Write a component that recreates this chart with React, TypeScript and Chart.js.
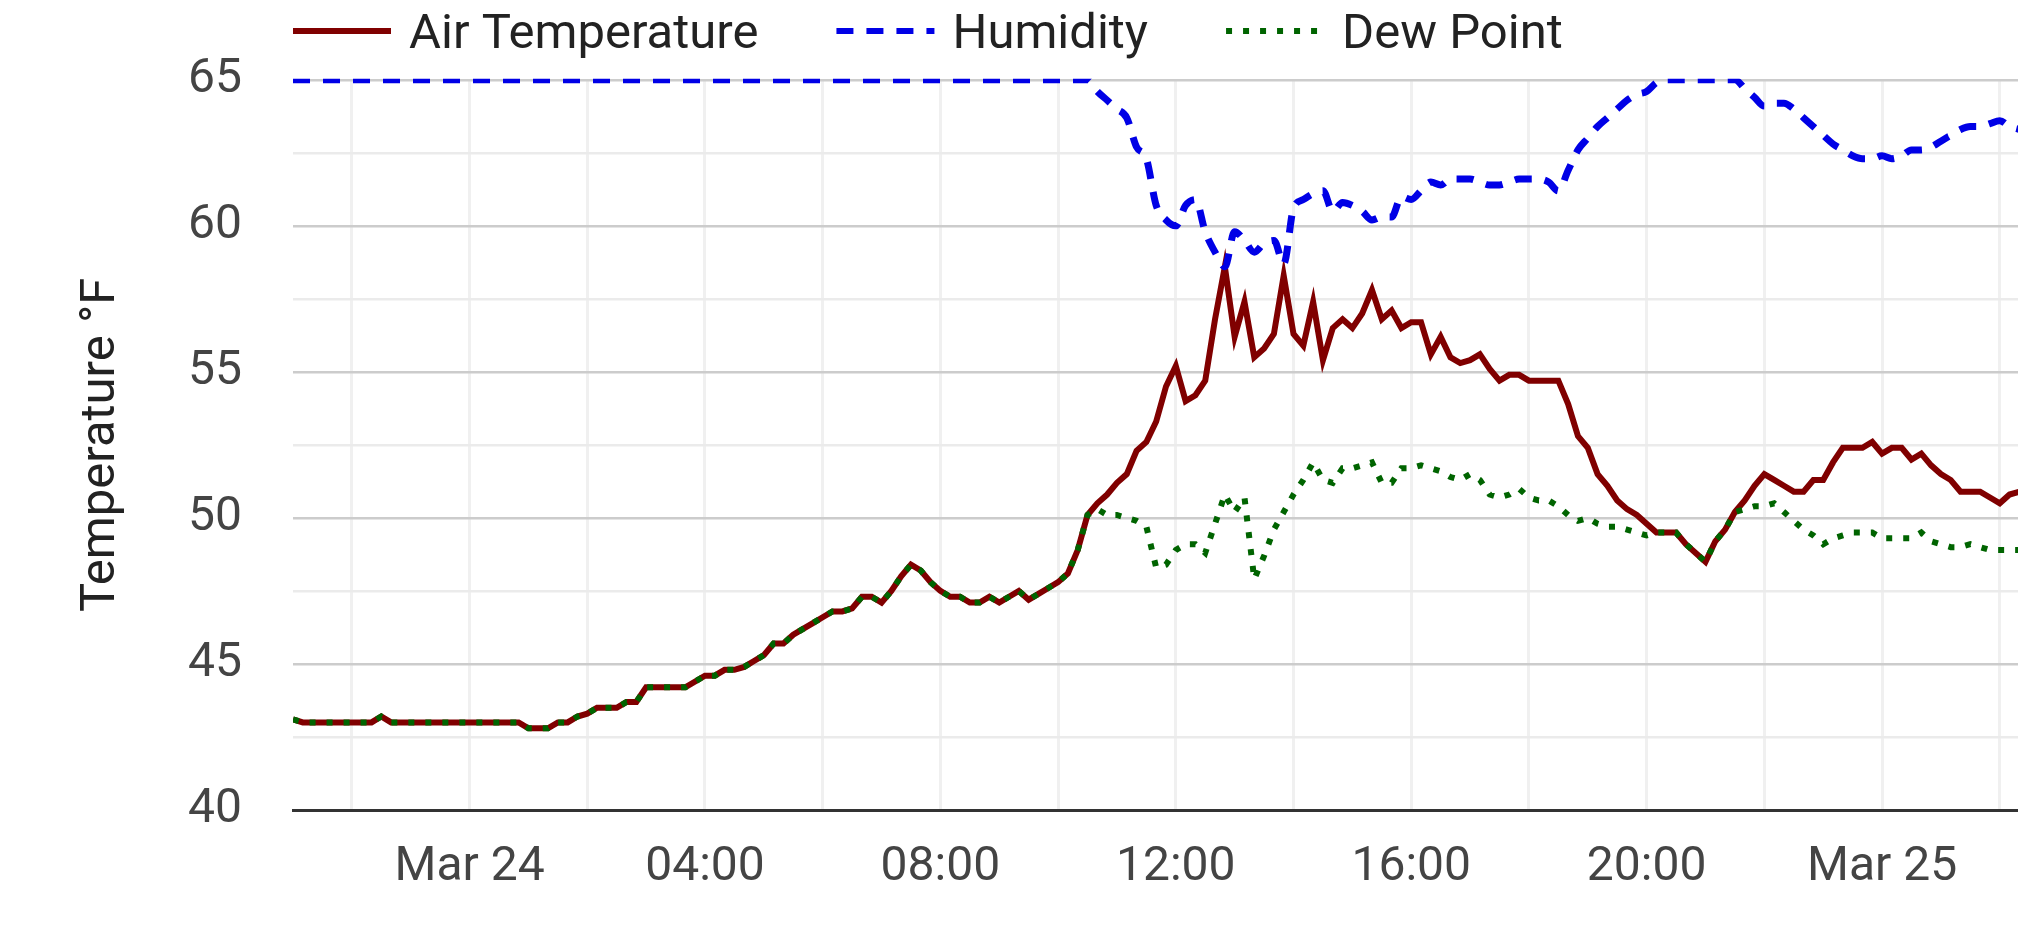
import React, { useEffect, useRef } from 'react';
import Chart from 'chart.js/auto';

// 10-minute readings, first one at Mar 23 21:00.
// x is measured in hours from Mar 24 00:00.
const START_HOUR = -3;
const STEP_HOURS = 1 / 6;
const X_MIN = -3;
const X_MAX = 26.31;

const airTemperature = [
  43.1, 43.0, 43.0, 43.0, 43.0, 43.0, // 21:00
  43.0, 43.0, 43.0, 43.2, 43.0, 43.0, // 22:00
  43.0, 43.0, 43.0, 43.0, 43.0, 43.0, // 23:00
  43.0, 43.0, 43.0, 43.0, 43.0, 43.0, // Mar 24 00:00
  42.8, 42.8, 42.8, 43.0, 43.0, 43.2, // 01:00
  43.3, 43.5, 43.5, 43.5, 43.7, 43.7, // 02:00
  44.2, 44.2, 44.2, 44.2, 44.2, 44.4, // 03:00
  44.6, 44.6, 44.8, 44.8, 44.9, 45.1, // 04:00
  45.3, 45.7, 45.7, 46.0, 46.2, 46.4, // 05:00
  46.6, 46.8, 46.8, 46.9, 47.3, 47.3, // 06:00
  47.1, 47.5, 48.0, 48.4, 48.2, 47.8, // 07:00
  47.5, 47.3, 47.3, 47.1, 47.1, 47.3, // 08:00
  47.1, 47.3, 47.5, 47.2, 47.4, 47.6, // 09:00
  47.8, 48.1, 48.9, 50.1, 50.5, 50.8, // 10:00
  51.2, 51.5, 52.3, 52.6, 53.3, 54.5, // 11:00
  55.2, 54.0, 54.2, 54.7, 56.8, 58.6, // 12:00
  56.2, 57.4, 55.5, 55.8, 56.3, 58.3, // 13:00
  56.3, 55.9, 57.4, 55.4, 56.5, 56.8, // 14:00
  56.5, 57.0, 57.8, 56.8, 57.1, 56.5, // 15:00
  56.7, 56.7, 55.6, 56.2, 55.5, 55.3, // 16:00
  55.4, 55.6, 55.1, 54.7, 54.9, 54.9, // 17:00
  54.7, 54.7, 54.7, 54.7, 53.9, 52.8, // 18:00
  52.4, 51.5, 51.1, 50.6, 50.3, 50.1, // 19:00
  49.8, 49.5, 49.5, 49.5, 49.1, 48.8, // 20:00
  48.5, 49.2, 49.6, 50.2, 50.6, 51.1, // 21:00
  51.5, 51.3, 51.1, 50.9, 50.9, 51.3, // 22:00
  51.3, 51.9, 52.4, 52.4, 52.4, 52.6, // 23:00
  52.2, 52.4, 52.4, 52.0, 52.2, 51.8, // Mar 25 00:00
  51.5, 51.3, 50.9, 50.9, 50.9, 50.7, // 01:00
  50.5, 50.8, 50.9, // 02:00
];

const humidity = [
  65, 65, 65, 65, 65, 65, // 21:00
  65, 65, 65, 65, 65, 65, // 22:00
  65, 65, 65, 65, 65, 65, // 23:00
  65, 65, 65, 65, 65, 65, // Mar 24 00:00
  65, 65, 65, 65, 65, 65, // 01:00
  65, 65, 65, 65, 65, 65, // 02:00
  65, 65, 65, 65, 65, 65, // 03:00
  65, 65, 65, 65, 65, 65, // 04:00
  65, 65, 65, 65, 65, 65, // 05:00
  65, 65, 65, 65, 65, 65, // 06:00
  65, 65, 65, 65, 65, 65, // 07:00
  65, 65, 65, 65, 65, 65, // 08:00
  65, 65, 65, 65, 65, 65, // 09:00
  65, 65, 65, 65, 64.6, 64.3, // 10:00
  64.0, 63.7, 62.7, 62.3, 60.7, 60.2, // 11:00
  60.0, 60.7, 60.9, 59.8, 59.1, 58.6, // 12:00
  59.8, 59.5, 59.1, 59.4, 59.5, 58.7, // 13:00
  60.6, 60.9, 61.1, 61.2, 60.5, 60.8, // 14:00
  60.7, 60.5, 60.2, 60.3, 60.3, 61.0, // 15:00
  60.9, 61.2, 61.5, 61.4, 61.6, 61.6, // 16:00
  61.6, 61.5, 61.4, 61.4, 61.5, 61.6, // 17:00
  61.6, 61.6, 61.5, 61.2, 61.9, 62.6, // 18:00
  63.0, 63.4, 63.7, 64.0, 64.3, 64.5, // 19:00
  64.6, 64.9, 65, 65, 65, 65, // 20:00
  65, 65, 65, 65, 64.7, 64.4, // 21:00
  64.1, 64.2, 64.2, 64.0, 63.7, 63.4, // 22:00
  63.1, 62.8, 62.6, 62.4, 62.3, 62.3, // 23:00
  62.4, 62.3, 62.4, 62.6, 62.6, 62.7, // Mar 25 00:00
  62.9, 63.1, 63.3, 63.4, 63.4, 63.5, // 01:00
  63.6, 63.4, 63.3, // 02:00
];

const dewPoint = [
  43.1, 43.0, 43.0, 43.0, 43.0, 43.0, // 21:00
  43.0, 43.0, 43.0, 43.2, 43.0, 43.0, // 22:00
  43.0, 43.0, 43.0, 43.0, 43.0, 43.0, // 23:00
  43.0, 43.0, 43.0, 43.0, 43.0, 43.0, // Mar 24 00:00
  42.8, 42.8, 42.8, 43.0, 43.0, 43.2, // 01:00
  43.3, 43.5, 43.5, 43.5, 43.7, 43.7, // 02:00
  44.2, 44.2, 44.2, 44.2, 44.2, 44.4, // 03:00
  44.6, 44.6, 44.8, 44.8, 44.9, 45.1, // 04:00
  45.3, 45.7, 45.7, 46.0, 46.2, 46.4, // 05:00
  46.6, 46.8, 46.8, 46.9, 47.3, 47.3, // 06:00
  47.1, 47.5, 48.0, 48.4, 48.2, 47.8, // 07:00
  47.5, 47.3, 47.3, 47.1, 47.1, 47.3, // 08:00
  47.1, 47.3, 47.5, 47.2, 47.4, 47.6, // 09:00
  47.8, 48.1, 48.9, 50.1, 50.3, 50.1, // 10:00
  50.1, 50.0, 49.9, 49.7, 48.3, 48.4, // 11:00
  48.9, 49.1, 49.1, 48.8, 49.8, 50.8, // 12:00
  50.2, 50.7, 47.9, 48.7, 49.6, 50.2, // 13:00
  50.8, 51.3, 51.9, 51.3, 51.2, 51.7, // 14:00
  51.7, 51.8, 51.9, 51.2, 51.2, 51.7, // 15:00
  51.7, 51.8, 51.7, 51.6, 51.4, 51.3, // 16:00
  51.5, 51.3, 50.8, 50.7, 50.8, 51.0, // 17:00
  50.7, 50.6, 50.6, 50.4, 50.1, 49.9, // 18:00
  50.0, 49.8, 49.7, 49.7, 49.6, 49.5, // 19:00
  49.4, 49.5, 49.5, 49.5, 49.1, 48.8, // 20:00
  48.5, 49.2, 49.6, 50.2, 50.3, 50.4, // 21:00
  50.4, 50.5, 50.2, 49.9, 49.6, 49.4, // 22:00
  49.1, 49.3, 49.4, 49.5, 49.5, 49.5, // 23:00
  49.3, 49.3, 49.3, 49.3, 49.5, 49.2, // Mar 25 00:00
  49.1, 49.0, 49.0, 49.1, 49.0, 48.9, // 01:00
  48.9, 48.9, 48.9, // 02:00
];

const times = airTemperature.map((_, i) => START_HOUR + i * STEP_HOURS);

const toPoints = (values: number[]) => values.map((y, i) => ({ x: times[i], y }));

function timeLabel(v: number): string {
  if (v % 4 !== 0) return '';
  if (v === 0) return 'Mar 24';
  if (v === 24) return 'Mar 25';
  const h = ((v % 24) + 24) % 24;
  return `${String(h).padStart(2, '0')}:00`;
}

// legend drawn as line samples in a single row starting at the plot's left edge
const lineLegend = {
  id: 'lineLegend',
  afterDraw(chart: any) {
    const { ctx, chartArea } = chart;
    const sample = 98;
    let x = chartArea.left;
    ctx.save();
    ctx.font = '49px Roboto';
    ctx.textBaseline = 'alphabetic';
    ctx.textAlign = 'left';
    chart.data.datasets.forEach((ds: any) => {
      ctx.strokeStyle = ds.borderColor;
      ctx.lineWidth = 6;
      ctx.lineCap = 'butt';
      ctx.setLineDash(ds.borderDash || []);
      ctx.beginPath();
      ctx.moveTo(x, 31);
      ctx.lineTo(x + sample, 31);
      ctx.stroke();
      ctx.setLineDash([]);
      x += sample + 18;
      ctx.fillStyle = '#222';
      ctx.fillText(ds.label, x, 48);
      x += ctx.measureText(ds.label).width + 78;
    });
    ctx.restore();
  },
};

export default function App() {
  const canvasRef = useRef<HTMLCanvasElement>(null);
  const chartRef = useRef<Chart | null>(null);

  useEffect(() => {
    if (!canvasRef.current) return;
    if (chartRef.current) chartRef.current.destroy();

    Chart.defaults.font.family = 'Roboto';

    chartRef.current = new Chart(canvasRef.current, {
      type: 'line',
      data: {
        datasets: [
          {
            label: 'Air Temperature',
            data: toPoints(airTemperature),
            borderColor: '#800000',
            backgroundColor: '#800000',
            borderWidth: 6,
            pointRadius: 0,
            pointHoverRadius: 0,
            tension: 0,
            order: 2,
          },
          {
            label: 'Humidity',
            data: toPoints(humidity),
            borderColor: '#0000e6',
            backgroundColor: '#0000e6',
            borderWidth: 7,
            borderDash: [17, 13],
            pointRadius: 0,
            pointHoverRadius: 0,
            cubicInterpolationMode: 'monotone',
            clip: { left: 0, top: 1, right: 0, bottom: 0 },
            order: 0,
          },
          {
            label: 'Dew Point',
            data: toPoints(dewPoint),
            borderColor: '#006400',
            backgroundColor: '#006400',
            borderWidth: 6,
            borderDash: [6, 11],
            pointRadius: 0,
            pointHoverRadius: 0,
            tension: 0,
            order: 1,
          },
        ],
      },
      options: {
        animation: false,
        responsive: true,
        maintainAspectRatio: false,
        events: [],
        layout: { autoPadding: false, padding: { top: 78, right: 0, bottom: 0, left: 0 } },
        plugins: {
          legend: { display: false },
          tooltip: { enabled: false },
        },
        scales: {
          x: {
            type: 'linear',
            min: X_MIN,
            max: X_MAX,
            afterFit: (scale: any) => {
              // plot runs to the right edge of the canvas
              scale.height = 130;
              scale.paddingLeft = 0;
              scale.paddingRight = 0;
            },
            ticks: {
              stepSize: 2,
              includeBounds: false,
              autoSkip: false,
              maxRotation: 0,
              minRotation: 0,
              padding: 29,
              color: '#444',
              font: { size: 48 },
              callback: (v: any) => timeLabel(Number(v)),
            },
            grid: { color: '#f0f0f0', lineWidth: 3, drawTicks: false },
            border: { display: true, color: '#333', width: 3 },
          },
          y: {
            min: 40,
            max: 65,
            afterFit: (scale: any) => {
              scale.width = 293;
            },
            ticks: {
              stepSize: 2.5,
              padding: 51,
              color: '#444',
              font: { size: 48 },
              callback: (v: any) => (Number(v) % 5 === 0 ? String(v) : ''),
            },
            grid: {
              color: (c: any) => (c.tick && c.tick.value % 5 === 0 ? '#cccccc' : '#ebebeb'),
              lineWidth: 2.5,
              drawTicks: false,
            },
            border: { display: false },
            title: {
              display: true,
              text: 'Temperature °F',
              color: '#222',
              font: { size: 49 },
              padding: { top: 72, bottom: 8 },
            },
          },
        },
      },
      plugins: [lineLegend],
    });

    return () => {
      if (chartRef.current) {
        chartRef.current.destroy();
        chartRef.current = null;
      }
    };
  }, []);

  return (
    <div style={{ position: 'fixed', left: 0, top: 0, width: '100vw', height: '100vh', background: '#fff' }}>
      <canvas ref={canvasRef} />
    </div>
  );
}
